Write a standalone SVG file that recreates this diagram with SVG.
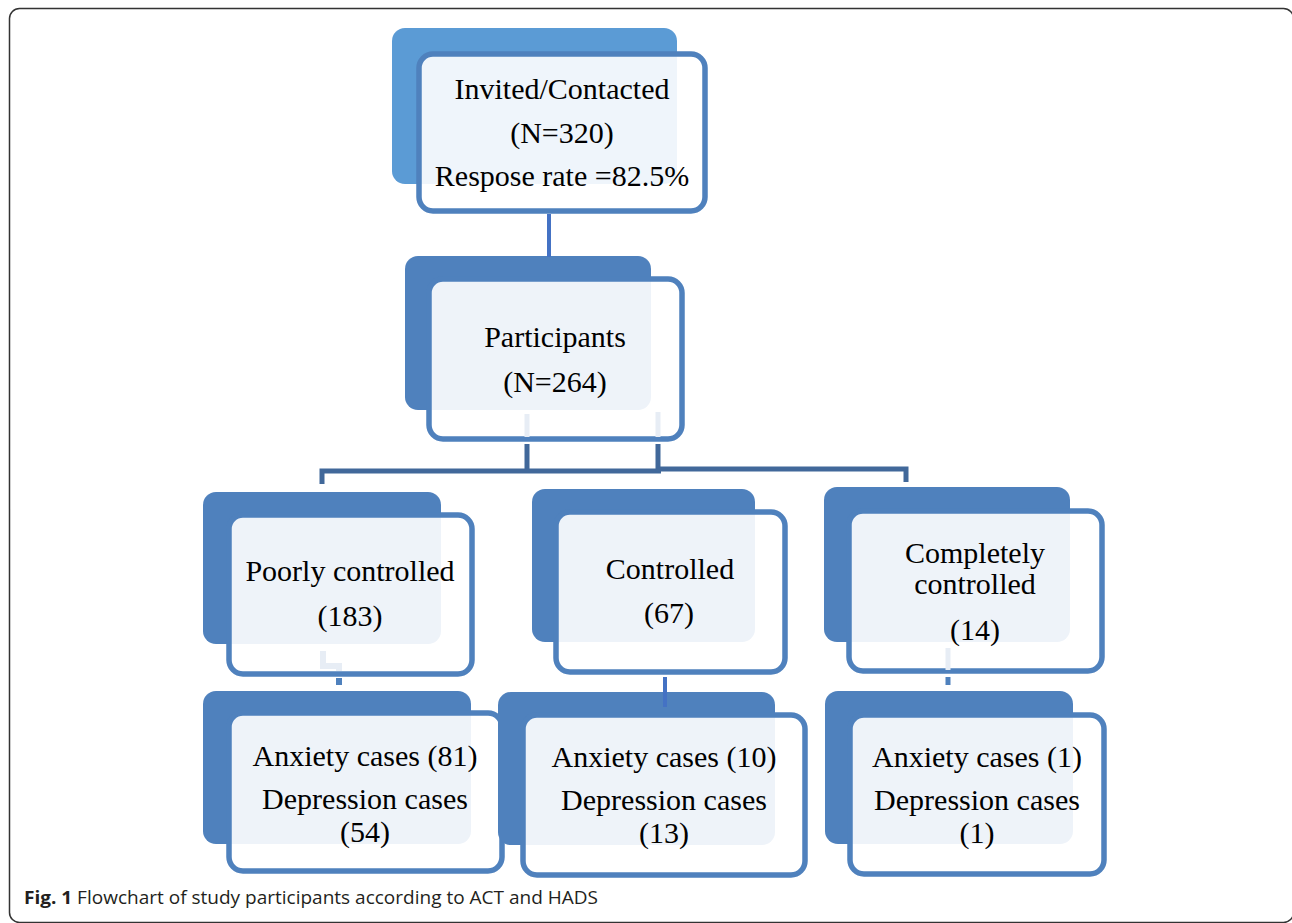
<svg xmlns="http://www.w3.org/2000/svg" width="1292" height="923" viewBox="0 0 1292 923">
<style>
.back{fill:#4F81BD}
.back-top{fill:#5B9BD5}
.front{fill:#FFFFFF;fill-opacity:0.9;stroke:#4F81BD;stroke-width:5.5}
.t{font-family:"Liberation Serif","Times New Roman",serif;font-size:30px;fill:#000;text-anchor:middle}
.c{fill:none;stroke-linecap:butt;stroke-linejoin:miter}
.dark{stroke:#41689A;stroke-width:5}
.mid{stroke:#4472C4;stroke-width:4}
.lt{stroke:#E7EDF5;stroke-width:5}
.cap{font-family:"Open Sans","Liberation Sans",sans-serif;font-size:17.5px;fill:#231F20}
</style>
<rect x="9.5" y="8.5" width="1284" height="914" rx="10" fill="#FFFFFF" stroke="#333333" stroke-width="1.5"/>

<g id="node-invited">
<rect class="back-top" x="392" y="28" width="285" height="156" rx="13"/>
<rect class="front" x="419" y="54" width="286" height="157" rx="14"/>
<text class="t" x="562" y="99">Invited/Contacted</text>
<text class="t" x="562" y="143">(N=320)</text>
<text class="t" x="562" y="186">Respose rate =82.5%</text>
</g>

<g id="node-participants">
<rect class="back" x="405" y="256" width="246" height="154" rx="13"/>
<rect class="front" x="429" y="279" width="253" height="160" rx="14"/>
<text class="t" x="555" y="347">Participants</text>
<text class="t" x="555" y="392">(N=264)</text>
</g>

<g id="node-poorly">
<rect class="back" x="203" y="492" width="238" height="152" rx="13"/>
<rect class="front" x="229" y="515" width="243" height="159" rx="14"/>
<text class="t" x="350" y="581">Poorly controlled</text>
<text class="t" x="350" y="626">(183)</text>
</g>

<g id="node-controlled">
<rect class="back" x="532" y="489" width="223" height="153" rx="13"/>
<rect class="front" x="556" y="512" width="229" height="160" rx="14"/>
<text class="t" x="670" y="579">Controlled</text>
<text class="t" x="669" y="623">(67)</text>
</g>

<g id="node-completely">
<rect class="back" x="824" y="487" width="246" height="155" rx="13"/>
<rect class="front" x="849" y="511" width="253" height="160" rx="14"/>
<text class="t" x="975" y="563">Completely</text>
<text class="t" x="975" y="594">controlled</text>
<text class="t" x="975" y="640">(14)</text>
</g>

<g id="node-poorly-cases">
<rect class="back" x="203" y="691" width="268" height="153" rx="13"/>
<rect class="front" x="229" y="713" width="273" height="158" rx="14"/>
<text class="t" x="365" y="766">Anxiety cases (81)</text>
<text class="t" x="365" y="809">Depression cases</text>
<text class="t" x="365" y="842">(54)</text>
</g>

<g id="node-controlled-cases">
<rect class="back" x="498" y="692" width="277" height="153" rx="13"/>
<rect class="front" x="523" y="715" width="282" height="160" rx="14"/>
<text class="t" x="664" y="767">Anxiety cases (10)</text>
<text class="t" x="664" y="810">Depression cases</text>
<text class="t" x="664" y="843">(13)</text>
</g>

<g id="node-completely-cases">
<rect class="back" x="825" y="691" width="248" height="153" rx="13"/>
<rect class="front" x="850" y="715" width="254" height="159" rx="14"/>
<text class="t" x="977" y="767">Anxiety cases (1)</text>
<text class="t" x="977" y="810">Depression cases</text>
<text class="t" x="977" y="843">(1)</text>
</g>

<g id="connectors">
<path class="c mid" d="M549,214 V257"/>
<path class="c lt" d="M527,414 V437 M658,412 V437"/>
<path class="c dark" d="M527,444 V471 M322,484 V471 H661"/>
<path class="c dark" d="M658,444 V469 H906 V482"/>
<path class="c lt" style="stroke-width:6" d="M323,651 V666 H339 V671"/>
<path class="c" style="stroke:#4F81BD;stroke-width:6" d="M339,678 V685"/>
<path class="c mid" d="M665,677 V707"/>
<path class="c lt" d="M948,648 V670"/>
<path class="c" style="stroke:#4F81BD;stroke-width:5" d="M948,677 V685"/>
</g>

<text class="cap" x="24" y="904" textLength="574" lengthAdjust="spacingAndGlyphs"><tspan font-weight="bold">Fig. 1</tspan> Flowchart of study participants according to ACT and HADS</text>
</svg>
